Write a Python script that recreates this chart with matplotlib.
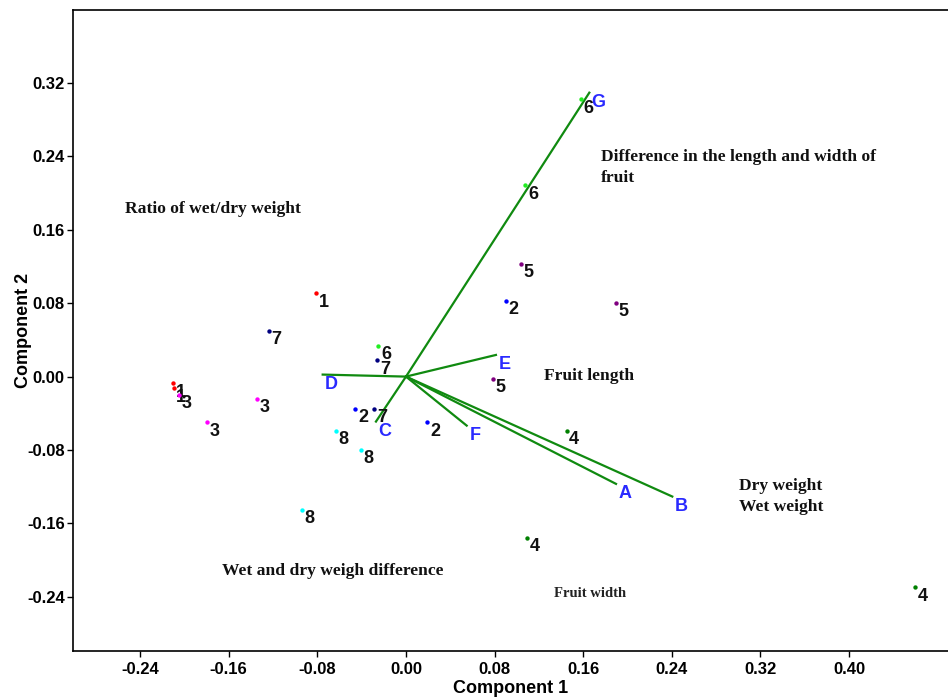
import numpy as np
import matplotlib.pyplot as plt

plt.rcParams['font.family'] = ['Liberation Sans', 'DejaVu Sans']

# sample scores (Component 1, Component 2) and their group number
pc1 = [-0.081, -0.210, -0.2097, 0.0903, -0.0458, 0.0193, -0.2046, -0.1348, -0.180,
       0.145, 0.1095, 0.4595, 0.1041, 0.1893, 0.0788, 0.1077, 0.158, -0.025,
       -0.1237, -0.0259, -0.0286, -0.0635, -0.0409, -0.0942]
pc2 = [0.091, -0.0073, -0.0126, 0.0825, -0.0352, -0.0497, -0.020, -0.024, -0.0497,
       -0.0588, -0.1754, -0.2295, 0.1228, 0.0803, -0.0025, 0.2085, 0.3025, 0.0334,
       0.0498, 0.0179, -0.0349, -0.0592, -0.0795, -0.1452]
group = [1, 1, 1, 2, 2, 2, 3, 3, 3, 4, 4, 4, 5, 5, 5, 6, 6, 6, 7, 7, 7, 8, 8, 8]

group_colors = {1: 'red', 2: 'blue', 3: 'magenta', 4: 'green', 5: 'purple',
                6: '#22ee22', 7: 'navy', 8: 'cyan'}

# variable loadings
var_names = ['A', 'B', 'C', 'D', 'E', 'F', 'G']
load1 = [0.1896, 0.2404, -0.0271, -0.0752, 0.0812, 0.0548, 0.1655]
load2 = [-0.1169, -0.1307, -0.049, 0.0022, 0.0236, -0.0534, 0.3094]

# notes written on the plot
notes = ['Ratio of wet/dry weight', 'Difference in the length and width of\nfruit',
         'Fruit length', 'Dry weight\nWet weight', 'Wet and dry weigh difference']
note_x = [-0.254, 0.176, 0.125, 0.301, -0.166]
note_y = [0.183, 0.228, 0.001, -0.131, -0.212]

fig = plt.figure(figsize=(9.48, 6.99), dpi=100)
ax = fig.add_axes([0.077, 0.0687, 0.923, 0.917])

for n, a, b in zip(var_names, load1, load2):
    ax.plot([0, a], [0, b], color='#108a10', lw=1.6, zorder=1)
    ax.annotate(n, (a, b), xytext=(6.5, -7.2), textcoords='offset points',
                ha='center', va='center', color='#2a2aff', fontsize=13,
                fontweight='bold')

for x, y, g in zip(pc1, pc2, group):
    ax.scatter(x, y, s=10, color=group_colors[g], zorder=3, linewidths=0)
    ax.annotate(str(g), (x, y), xytext=(5.5, -6.5), textcoords='offset points',
                ha='center', va='center', color='#111111', fontsize=13,
                fontweight='bold')

for t, x, y in zip(notes, note_x, note_y):
    ax.text(x, y, t, ha='left', va='center', fontsize=12.6, fontweight='bold',
            family='Liberation Serif', color='#111111', linespacing=1.4)
ax.text(0.134, -0.236, 'Fruit width', ha='left', va='center', fontsize=10.5,
        fontweight='bold', family='Liberation Serif', color='#222222')

ax.set_xlim(-0.3006, 0.4893)
ax.set_ylim(-0.299, 0.3995)
ax.set_xticks([-0.24, -0.16, -0.08, 0.0, 0.08, 0.16, 0.24, 0.32, 0.40])
ax.set_yticks([-0.24, -0.16, -0.08, 0.0, 0.08, 0.16, 0.24, 0.32])
ax.xaxis.set_major_formatter(plt.FormatStrFormatter('%.2f'))
ax.yaxis.set_major_formatter(plt.FormatStrFormatter('%.2f'))
ax.tick_params(direction='out', length=4, width=1, labelsize=12, pad=2)
ax.tick_params(axis='x', pad=4)
for lab in ax.get_xticklabels() + ax.get_yticklabels():
    lab.set_fontweight('bold')
ax.spines['right'].set_visible(False)
for s in ['left', 'bottom', 'top']:
    ax.spines[s].set_linewidth(1.2)
ax.set_xlabel('Component 1', fontsize=13, fontweight='bold', labelpad=2)
ax.set_ylabel('Component 2', fontsize=13, fontweight='bold')
ax.yaxis.set_label_coords(-0.047, 0.5)

fig.savefig('out.png', dpi=100)
